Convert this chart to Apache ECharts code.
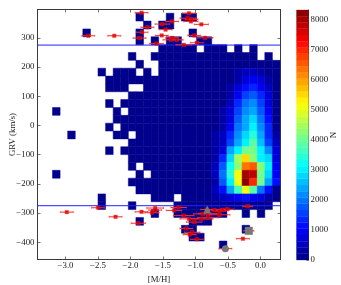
<!DOCTYPE html>
<html><head><meta charset="utf-8">
<style>html,body{margin:0;padding:0;background:#fff}#c{width:341px;height:285px}</style>
<script src="https://cdn.jsdelivr.net/npm/echarts@6/dist/echarts.min.js"></script>
</head><body><div id="c"></div>
<script>
// 2D histogram: rows from the top of the picture, columns from the left. 0 = empty bin.
var binX0 = -3.2, binW = 3.5 / 30, binYTop = 384.2, binH = 26.9;
var r00=[0,0,0,0,0,0,0,0,0,0,0,1,0,0,0,1,0,1,1,0,0,0,0,0,0,0,0,0,0,0];
var r01=[0,0,0,0,0,0,0,0,0,0,0,0,1,0,1,1,0,0,0,0,0,0,0,0,0,0,0,0,0,0];
var r02=[0,0,0,0,1,0,0,0,0,0,0,1,0,0,0,0,0,0,1,0,0,0,0,0,0,0,0,0,0,0];
var r03=[0,0,0,0,0,0,0,0,0,0,0,1,0,1,0,1,1,0,0,1,1,0,0,0,0,0,0,0,0,0];
var r04=[0,0,0,0,0,0,0,0,0,0,0,0,0,0,2,3,3,2,3,0,2,3,3,0,2,0,1,0,0,0];
var r05=[0,0,0,0,0,0,0,0,0,0,1,0,0,1,4,5,6,6,7,5,7,8,8,6,9,8,8,0,2,0];
var r06=[0,0,0,0,0,0,0,0,0,0,0,1,0,0,5,8,10,12,14,16,18,20,25,30,35,35,30,25,15,8];
var r07=[0,0,0,0,0,0,1,0,1,1,1,0,1,0,8,12,15,18,22,28,32,45,70,120,220,430,560,340,150,50];
var r08=[0,0,0,0,0,0,0,1,1,2,3,3,4,6,10,14,18,22,28,34,42,60,90,160,350,690,1000,690,240,60];
var r09=[0,0,0,0,0,0,0,1,1,1,0,0,3,6,11,15,20,26,32,40,52,80,130,230,690,1100,1450,1000,460,80];
var r10=[0,0,0,0,0,0,0,0,0,0,3,4,5,7,12,16,22,28,36,45,60,95,150,340,1000,1560,1820,1300,690,90];
var r11=[0,0,0,0,0,0,0,1,0,1,3,4,5,8,13,18,25,32,40,50,70,110,180,460,1300,1950,2210,1560,820,100];
var r12=[1,0,0,0,0,0,0,0,1,0,3,5,6,9,14,20,28,36,45,58,85,130,220,690,1560,2210,2490,1820,1000,120];
var r13=[0,0,0,0,0,0,0,0,1,1,4,6,7,10,16,22,30,40,50,65,95,160,280,820,1820,2340,2740,1950,1150,120];
var r14=[0,0,0,0,0,0,0,1,0,1,4,6,8,12,18,24,34,44,56,72,110,190,340,1000,1950,2490,3000,2080,1300,100];
var r15=[0,0,1,0,0,0,0,0,1,1,0,6,8,12,20,28,38,50,62,80,120,220,420,1300,2210,2740,3500,2340,1420,240];
var r16=[0,0,0,0,0,0,0,0,0,0,4,7,9,14,22,30,42,55,70,90,140,260,500,1560,2340,3000,3770,2600,1560,460];
var r17=[0,0,0,0,0,0,0,1,0,1,4,7,10,15,24,34,46,60,78,100,160,300,820,2340,3000,4030,4150,2950,2210,690];
var r18=[0,0,0,0,0,0,0,0,0,0,5,8,10,15,26,36,50,65,85,110,180,400,1300,2900,4500,5450,4290,3000,2740,800];
var r19=[0,0,0,0,0,0,0,0,0,0,3,0,10,16,28,38,52,70,90,120,150,480,1800,3300,4290,6240,6500,4290,3000,950];
var r20=[1,0,0,0,0,0,0,0,0,0,0,4,0,16,28,40,55,72,95,125,180,500,2000,3400,5000,8070,7860,4000,2800,1000];
var r21=[0,0,0,0,0,0,0,0,0,0,2,5,9,15,26,38,52,70,90,120,150,400,1700,3000,5080,8320,7020,4150,2400,1200];
var r22=[0,0,0,0,0,0,0,0,0,0,0,4,7,12,22,30,42,55,70,90,130,500,1200,2300,3700,5080,3770,1950,1100,130];
var r23=[0,0,0,0,0,0,1,0,0,0,0,0,0,6,12,18,0,32,50,100,150,300,500,700,1000,1150,1000,700,300,120];
var r24=[0,0,0,0,0,0,1,0,0,0,1,0,0,0,0,0,8,14,20,30,50,100,120,160,180,200,150,120,80,0];
var r25=[0,0,0,0,0,0,0,0,0,0,0,0,0,2,0,0,3,5,7,6,6,5,3,0,0,2,0,2,0,0];
var r26=[0,0,0,0,0,0,0,0,0,0,0,1,0,0,0,0,0,0,2,3,2,0,0,0,0,0,0,0,0,0];
var r27=[0,0,0,0,0,0,0,0,0,0,0,0,0,0,0,0,0,1,2,0,0,0,0,0,0,1,0,0,0,0];
var r28=[0,0,0,0,0,0,0,0,0,0,0,0,0,0,0,0,0,0,1,1,0,0,0,0,0,0,0,0,0,0];
var r29=[0,0,0,0,0,0,0,0,0,0,0,0,0,0,0,0,0,0,0,0,0,0,1,0,0,0,0,0,0,0];
var histRows=[r00,r01,r02,r03,r04,r05,r06,r07,r08,r09,r10,r11,r12,r13,r14,r15,r16,r17,r18,r19,r20,r21,r22,r23,r24,r25,r26,r27,r28,r29];

// High-velocity stars
var metallicity=[-1.83,-1.74,-1.82,-1.86,-2.25,-2.65,-1.51,-1.36,-1.46,-1.52,-1.60,-1.36,-1.38,-1.29,-1.18,-1.10,-1.12,-1.06,-1.07,-0.91,-1.02,-0.85,-0.98,
 -2.98,-2.50,-2.23,-1.88,-1.83,-1.62,-1.62,-1.67,-1.26,-1.33,-1.18,-1.10,-1.02,-0.91,-0.81,-0.63,-0.89,-0.81,-0.71,-0.63,-0.58,-0.51,-0.20,-1.14,-1.05,-1.09,-0.98,-0.27,-0.18,-0.54,-0.82];
var grvKms=[386,336,319,299,307,307,347,356,328,308,280,300,293,293,276,384,367,363,356,346,308,300,283,
 -297,-282,-313,-335,-296,-283,-290,-299,-281,-291,-309,-320,-331,-320,-316,-306,-303,-302,-290,-293,-289,-287,-277,-353,-366,-374,-390,-388,-361,-422,-288];
var xErr=[0.10,0.10,0.09,0.10,0.10,0.10,0.11,0.10,0.10,0.10,0.11,0.10,0.12,0.10,0.12,0.10,0.12,0.10,0.11,0.11,0.10,0.12,0.10,
 0.10,0.10,0.10,0.11,0.10,0.13,0.10,0.11,0.12,0.12,0.16,0.14,0.12,0.18,0.16,0.16,0.14,0.14,0.10,0.10,0.10,0.10,0.08,0.10,0.12,0.10,0.10,0.10,0.08,0.10,0.10];
var specialStars=[[-0.18,-361,'star'],[-0.54,-422,'circle'],[-0.82,-288,'triangle']];
var guideLevels=[275,-275];

var xTicks=[-3,-2.5,-2,-1.5,-1,-0.5,0];
var yTicks=[-400,-300,-200,-100,0,100,200,300];
var cbTicks=[0,1000,2000,3000,4000,5000,6000,7000,8000];
var cbMax=8320, cbLevels=40;

var xMin=-3.431,xMax=0.308,yMin=-459.2,yMax=396.9;

function jet(t){
  function c(x){return Math.round(255*Math.max(0,Math.min(1,x)));}
  var r=Math.min(4*t-1.5,-4*t+4.5), g=Math.min(4*t-0.5,-4*t+3.5), b=Math.min(4*t+0.5,-4*t+2.5);
  return 'rgb('+c(r)+','+c(g)+','+c(b)+')';
}
function colorFor(v){
  var lev=Math.min(cbLevels-1,Math.floor(v/cbMax*cbLevels));
  return jet((lev+0.5)/cbLevels);
}
var cells=[];
histRows.forEach(function(row,r){row.forEach(function(n,c){ if(n>0) cells.push([c,r,n]); });});
var cbData=[];
for(var i=0;i<cbLevels;i++) cbData.push([i]);

function minus(s){return String(s).replace('-','\u2212');}
var font='"Liberation Serif","DejaVu Serif",serif';
var frame='#3a3a3a';
function axisBase(){return {axisLine:{show:true,onZero:false,lineStyle:{color:frame,width:1}},splitLine:{show:false}};}
var lab={fontFamily:font,fontSize:8.8,color:'#222'};

var chart=echarts.init(document.getElementById('c'),null,{renderer:'canvas'});
chart.setOption({
  animation:false,
  backgroundColor:'#fff',
  grid:[{left:37.5,top:9.5,width:243,height:250,outerBoundsMode:'none',containLabel:false},
        {left:296.5,top:10,width:12,height:250,outerBoundsMode:'none',containLabel:false}],
  xAxis:[
    Object.assign(axisBase(),{type:'value',gridIndex:0,position:'bottom',min:xMin,max:xMax,
      name:'[M/H]',nameLocation:'middle',nameGap:6,nameTextStyle:lab,
      axisTick:{show:true,inside:true,length:3,customValues:xTicks,lineStyle:{color:frame,width:0.7}},
      axisLabel:{show:true,customValues:xTicks,margin:2,fontFamily:font,fontSize:8.8,color:'#222',formatter:function(v){return minus(v.toFixed(1));}}}),
    Object.assign(axisBase(),{type:'value',gridIndex:0,position:'top',min:xMin,max:xMax,
      axisTick:{show:true,inside:true,length:3,customValues:xTicks,lineStyle:{color:frame,width:0.7}},axisLabel:{show:false}}),
    {type:'value',gridIndex:1,min:0,max:1,show:false}
  ],
  yAxis:[
    Object.assign(axisBase(),{type:'value',gridIndex:0,position:'left',min:yMin,max:yMax,
      name:'GRV (km/s)',nameLocation:'middle',nameGap:20,nameMoveOverlap:false,nameTextStyle:lab,
      axisTick:{show:true,inside:true,length:3,customValues:yTicks,lineStyle:{color:frame,width:0.7}},
      axisLabel:{show:true,customValues:yTicks,margin:3,fontFamily:font,fontSize:8.8,color:'#222',formatter:function(v){return minus(v);}}}),
    Object.assign(axisBase(),{type:'value',gridIndex:0,position:'right',min:yMin,max:yMax,
      axisTick:{show:true,inside:true,length:3,customValues:yTicks,lineStyle:{color:frame,width:0.7}},axisLabel:{show:false}}),
    Object.assign(axisBase(),{type:'value',gridIndex:1,position:'right',min:0,max:cbMax,
      name:'N',nameLocation:'middle',nameGap:21,nameMoveOverlap:false,nameRotate:90,nameTextStyle:lab,
      axisTick:{show:true,inside:true,length:2,customValues:cbTicks,lineStyle:{color:frame,width:0.7}},
      axisLabel:{show:true,customValues:cbTicks,margin:2,fontFamily:font,fontSize:8.8,color:'#222',formatter:function(v){return String(v);}}})
  ],
  series:[
    {type:'custom',xAxisIndex:0,yAxisIndex:0,silent:true,z:1,clip:true,data:cells,
     renderItem:function(p,api){
       var c=api.value(0),r=api.value(1),n=api.value(2);
       var a=api.coord([binX0+c*binW,binYTop-r*binH]), b=api.coord([binX0+(c+1)*binW,binYTop-(r+1)*binH]);
       return {type:'rect',shape:{x:a[0],y:a[1],width:b[0]-a[0],height:b[1]-a[1]},
         style:{fill:colorFor(n),stroke:colorFor(n),lineWidth:0.5}};
     }},
    {type:'line',xAxisIndex:0,yAxisIndex:0,silent:true,z:2,symbol:'none',data:[[xMin,guideLevels[0]],[xMax,guideLevels[0]]],lineStyle:{color:'#2222ff',width:1}},
    {type:'line',xAxisIndex:0,yAxisIndex:0,silent:true,z:2,symbol:'none',data:[[xMin,guideLevels[1]],[xMax,guideLevels[1]]],lineStyle:{color:'#2222ff',width:1}},
    {type:'custom',xAxisIndex:0,yAxisIndex:0,silent:true,z:3,
     data:metallicity.map(function(m,i){return [m,grvKms[i],xErr[i]];}),
     renderItem:function(p,api){
       var m=api.value(0),g=api.value(1),e=api.value(2);
       var a=api.coord([m-e,g]),b=api.coord([m+e,g]);
       return {type:'group',children:[
         {type:'line',shape:{x1:a[0],y1:a[1],x2:b[0],y2:b[1]},style:{stroke:'#ff2a2a',lineWidth:1}},
         {type:'line',shape:{x1:a[0],y1:a[1]-1,x2:a[0],y2:a[1]+1},style:{stroke:'#ff2a2a',lineWidth:0.6}},
         {type:'line',shape:{x1:b[0],y1:b[1]-1,x2:b[0],y2:b[1]+1},style:{stroke:'#ff2a2a',lineWidth:0.6}}
       ]};
     }},
    {type:'scatter',xAxisIndex:0,yAxisIndex:0,silent:true,z:4,symbol:'rect',symbolSize:3.6,
     data:metallicity.map(function(m,i){return [m,grvKms[i]];}),
     itemStyle:{color:'#d40000',borderColor:'#ff2020',borderWidth:0.4}},
    {type:'scatter',xAxisIndex:0,yAxisIndex:0,silent:true,z:5,
     data:specialStars.map(function(s){return {value:[s[0],s[1]],symbol:s[2],symbolSize:s[2]==='circle'?7:8};}),
     itemStyle:{color:'#777777',opacity:1}},
    {type:'custom',xAxisIndex:2,yAxisIndex:2,silent:true,z:1,data:cbData,
     renderItem:function(p,api){
       var i=api.value(0);
       var a=api.coord([0,(i+1)/cbLevels*cbMax]),b=api.coord([1,i/cbLevels*cbMax]);
       return {type:'rect',shape:{x:a[0],y:a[1],width:b[0]-a[0],height:b[1]-a[1]},
         style:{fill:jet((i+0.5)/cbLevels),stroke:jet((i+0.5)/cbLevels),lineWidth:0.3}};
     }}
  ]
});
</script></body></html>
